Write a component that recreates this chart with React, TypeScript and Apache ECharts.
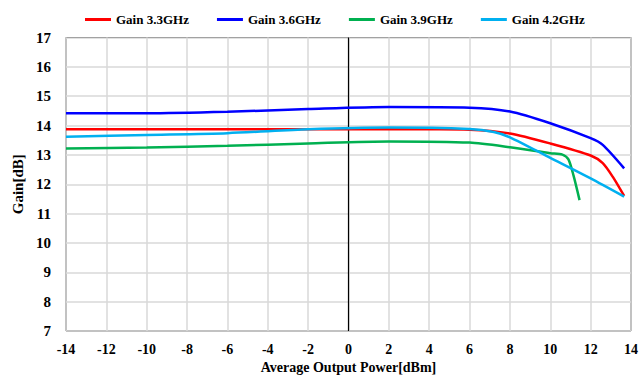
import React, { useEffect, useRef } from "react";
import * as echarts from "echarts";

const xTicks = { min: -14, max: 14, interval: 2 };
const yTicks = { min: 7, max: 17, interval: 1 };

const seriesNames = ["Gain 3.3GHz", "Gain 3.6GHz", "Gain 3.9GHz", "Gain 4.2GHz"];
const seriesColors = ["#ff0000", "#0000ff", "#00b050", "#00b0f0"];

const x33 = [-14, -10, -6, -2, 2, 6, 8, 10, 12, 12.6, 13.1, 13.66];
const y33 = [13.87, 13.87, 13.87, 13.87, 13.88, 13.86, 13.73, 13.39, 12.98, 12.72, 12.25, 11.6];

const x36 = [-14, -10, -6, -2, 2, 6, 8, 10, 12, 12.6, 13.66];
const y36 = [14.42, 14.42, 14.47, 14.56, 14.63, 14.61, 14.48, 14.08, 13.57, 13.34, 12.54];

const x39 = [-14, -10, -6, -2, 2, 6, 8, 10, 10.6, 10.9, 11.15, 11.45];
const y39 = [13.22, 13.25, 13.31, 13.39, 13.46, 13.42, 13.26, 13.06, 13.01, 12.85, 12.3, 11.46];

const x42 = [-14, -10, -6, -2, 2, 6, 7.2, 8, 10, 12, 13.66];
const y42 = [13.62, 13.68, 13.74, 13.87, 13.93, 13.88, 13.78, 13.6, 12.9, 12.2, 11.58];

const xs = [x33, x36, x39, x42];
const ys = [y33, y36, y39, y42];

const FONT = "Liberation Serif, serif";

export default function App() {
  const ref = useRef<HTMLDivElement>(null);
  useEffect(() => {
    if (!ref.current) return;
    const chart = echarts.init(ref.current, undefined, { renderer: "svg" });
    const series: any[] = seriesNames.map((name, i) => ({
      name,
      type: "line",
      data: xs[i].map((x, j) => [x, ys[i][j]]),
      smooth: 0.25,
      showSymbol: false,
      symbol: "none",
      lineStyle: { color: seriesColors[i], width: 2.5 },
      itemStyle: { color: seriesColors[i] },
      z: 3,
    }));
    series[0].markLine = {
      silent: true,
      symbol: "none",
      label: { show: false },
      lineStyle: { color: "#000", width: 1.2, type: "solid" },
      data: [{ xAxis: 0 }],
      z: 2,
    };
    chart.setOption({
      animation: false,
      backgroundColor: "#fff",
      textStyle: { fontFamily: FONT },
      legend: {
        left: 80,
        top: 8,
        icon: "rect",
        itemWidth: 26,
        itemHeight: 3,
        itemGap: 28,
        textStyle: { fontFamily: FONT, fontWeight: "bold", fontSize: 13, color: "#000" },
        data: seriesNames,
      },
      grid: {
        left: 66,
        right: 9,
        top: 37.5,
        bottom: 50,
        show: true,
        borderColor: "#000",
        borderWidth: 1,
      },
      xAxis: {
        type: "value",
        min: xTicks.min,
        max: xTicks.max,
        interval: xTicks.interval,
        name: "Average Output Power[dBm]",
        nameLocation: "middle",
        nameGap: 28,
        nameTextStyle: { fontFamily: FONT, fontWeight: "bold", fontSize: 14, color: "#000" },
        axisLine: { show: false },
        axisTick: { show: false },
        axisLabel: { margin: 11, fontFamily: FONT, fontWeight: "bold", fontSize: 14, color: "#000" },
        splitLine: { show: true, lineStyle: { color: "#d9d9d9", width: 1.5 } },
      },
      yAxis: {
        type: "value",
        min: yTicks.min,
        max: yTicks.max,
        interval: yTicks.interval,
        name: "Gain[dB]",
        nameLocation: "middle",
        nameGap: 40,
        nameTextStyle: { fontFamily: FONT, fontWeight: "bold", fontSize: 15, color: "#000" },
        axisLine: { show: false },
        axisTick: { show: false },
        axisLabel: { margin: 15, fontFamily: FONT, fontWeight: "bold", fontSize: 15, color: "#000" },
        splitLine: { show: true, lineStyle: { color: "#d9d9d9", width: 1.5 } },
      },
      series,
    });
    return () => chart.dispose();
  }, []);
  return (
    <div
      ref={ref}
      style={{ position: "fixed", left: 0, top: 0, width: 641, height: 381, background: "#fff" }}
    />
  );
}
